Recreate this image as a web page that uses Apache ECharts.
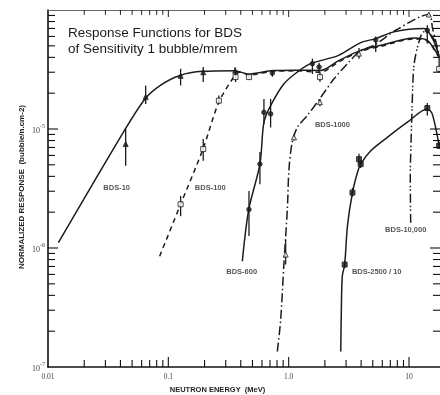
<!DOCTYPE html>
<html><head><meta charset="utf-8">
<script src="https://cdn.jsdelivr.net/npm/echarts/dist/echarts.min.js"></script>
<style>html,body{margin:0;padding:0;background:#fff}#c{width:440px;height:395px}</style>
</head><body><div id="c"></div>
<script>
// ---- axis ranges & ticks ----
const X_MIN = 0.01, X_MAX = 18.1;
const Y_MIN = 1e-7, Y_MAX = 1e-4;
const xTickLabels = {'-2': '0.01', '-1': '0.1', '0': '1.0', '1': '10'};
const xMajorTicks = [0.1, 1, 10];
const xMinorTicks = [0.02,0.03,0.04,0.05,0.06,0.07,0.08,0.09,0.2,0.3,0.4,0.5,0.6,0.7,0.8,0.9,2,3,4,5,6,7,8,9];
const yMajorTicks = [1e-6, 1e-5];
const yMinorTicks = [2e-7,3e-7,4e-7,5e-7,6e-7,7e-7,8e-7,9e-7,2e-6,3e-6,4e-6,5e-6,6e-6,7e-6,8e-6,9e-6,2e-5,3e-5,4e-5,5e-5,6e-5,7e-5,8e-5,9e-5];

// ---- response curves (energy MeV, response) ----
const bds10E = [0.0122, 0.0431, 0.064, 0.0853, 0.125, 0.193, 0.355, 0.463, 0.746, 1.17, 1.84, 2.6, 3.97, 5.83, 11.0, 14.2, 17.7];
const bds10R = [1.11e-6, 9.7e-6, 1.79e-5, 2.32e-5, 2.82e-5, 3.05e-5, 3.09e-5, 2.9e-5, 3.1e-5, 3.12e-5, 3.1e-5, 3.75e-5, 4.58e-5, 5.05e-5, 5.82e-5, 5.56e-5, 4.05e-5];

const bds100E = [0.0847, 0.1265, 0.194, 0.263, 0.358, 0.40, 0.463, 0.746, 1.17, 1.84, 2.6, 3.97, 5.83, 11.0, 14.2, 17.7];
const bds100R = [8.53e-7, 2.33e-6, 6.78e-6, 1.68e-5, 2.82e-5, 3.03e-5, 2.85e-5, 3.05e-5, 3.08e-5, 3.0e-5, 3.65e-5, 4.5e-5, 4.95e-5, 5.72e-5, 5.48e-5, 4.0e-5];

const bds600E = [0.412, 0.466, 0.577, 0.623, 0.708, 0.914, 1.18, 1.52, 2.6, 3.97, 5.29, 7.5, 13.3, 15.7, 17.7];
const bds600R = [7.74e-7, 2.11e-6, 5.07e-6, 1.14e-5, 1.57e-5, 2.40e-5, 3.01e-5, 3.54e-5, 4.16e-5, 5.32e-5, 5.75e-5, 6.55e-5, 6.98e-5, 5.75e-5, 4.16e-5];

const bds1000E = [0.805, 0.858, 0.914, 0.975, 1.006, 1.07, 1.18, 1.43, 1.81, 2.38, 3.08, 3.84, 5.29, 7.75, 14.6, 15.7, 17.7];
const bds1000R = [1.35e-7, 2.49e-7, 7.50e-7, 2.11e-6, 4.60e-6, 7.72e-6, 1.03e-5, 1.30e-5, 1.79e-5, 2.64e-5, 3.54e-5, 4.44e-5, 5.16e-5, 6.76e-5, 9.17e-5, 6.98e-5, 4.3e-5];

const bds10000E = [10.33, 10.25, 10.4, 10.6, 11.0, 12.1, 13.3, 15.7, 17.7];
const bds10000R = [1.63e-6, 4.03e-6, 7.72e-6, 1.47e-5, 3.42e-5, 5.39e-5, 6.55e-5, 5.97e-5, 4.13e-5];

const bds2500E = [2.71, 2.74, 2.79, 2.92, 3.08, 3.39, 3.73, 3.97, 4.81, 6.61, 9.70, 14.2, 15.6, 17.8];
const bds2500R = [1.35e-7, 3.03e-7, 5.78e-7, 7.26e-7, 1.53e-6, 2.92e-6, 4.31e-6, 5.07e-6, 6.56e-6, 8.51e-6, 1.14e-5, 1.47e-5, 1.34e-5, 7.23e-6];

// ---- measured points with error bars ----
const m10E  = [0.0442, 0.0648, 0.1265, 0.195, 0.359];
const m10R  = [7.47e-6, 1.86e-5, 2.8e-5, 3.0e-5, 3.09e-5];
const m10Lo = [4.9e-6, 1.62e-5, 2.32e-5, 2.48e-5, 2.8e-5];
const m10Hi = [1.0e-5, 2.32e-5, 3.21e-5, 3.32e-5, 3.3e-5];

const m100E  = [0.1265, 0.195, 0.263, 0.362, 0.468, 1.82, 17.8];
const m100R  = [2.33e-6, 6.78e-6, 1.73e-5, 2.73e-5, 2.73e-5, 2.73e-5, 3.2e-5];
const m100Lo = [1.85e-6, 5.4e-6, 1.62e-5, 2.48e-5, 2.6e-5, 2.5e-5, 3.0e-5];
const m100Hi = [2.74e-6, 8.24e-6, 1.91e-5, 3.09e-5, 2.9e-5, 3.0e-5, 4.16e-5];

const m600E  = [0.468, 0.577, 0.623, 0.708, 0.732, 1.575, 1.79, 5.29, 14.2];
const m600R  = [2.11e-6, 5.07e-6, 1.38e-5, 1.34e-5, 2.95e-5, 3.54e-5, 3.32e-5, 5.6e-5, 6.76e-5];
const m600Lo = [1.26e-6, 3.43e-6, 1.1e-5, 1.03e-5, 2.75e-5, 2.9e-5, 3.0e-5, 4.44e-5, 5.22e-5];
const m600Hi = [3.02e-6, 6.4e-6, 1.79e-5, 1.79e-5, 3.1e-5, 3.9e-5, 3.6e-5, 6.0e-5, 7.45e-5];

const m1000E  = [0.944, 1.107, 1.82, 3.84, 14.6];
const m1000R  = [8.81e-7, 8.51e-6, 1.68e-5, 4.3e-5, 9.17e-5];
const m1000Lo = [7.26e-7, 8.0e-6, 1.55e-5, 3.9e-5, 8.8e-5];
const m1000Hi = [1.18e-6, 9.0e-6, 1.79e-5, 4.8e-5, 9.5e-5];

const m2500E  = [2.92, 3.39, 3.84, 3.97, 14.2, 17.8];
const m2500R  = [7.26e-7, 2.92e-6, 5.58e-6, 5.07e-6, 1.5e-5, 7.23e-6];
const m2500Lo = [6.8e-7, 2.7e-6, 5.0e-6, 4.7e-6, 1.3e-5, 6.8e-6];
const m2500Hi = [7.8e-7, 3.2e-6, 6.2e-6, 5.5e-6, 1.65e-5, 7.8e-6];

// ---- curve labels ----
const labelTexts = ['BDS-10', 'BDS-100', 'BDS-1000', 'BDS-600', 'BDS-2500 / 10', 'BDS-10,000'];
const labelE = [0.0372, 0.223, 2.31, 0.407, 5.39, 9.39];
const labelR = [3.18e-6, 3.18e-6, 1.08e-5, 6.33e-7, 6.33e-7, 1.43e-6];

const INK = '#1c1c1c';
const pairs = (xs, ys) => xs.map((x, i) => [x, ys[i]]);

function curve(name, xs, ys, dash) {
  return {
    type: 'line', name, data: pairs(xs, ys), showSymbol: false, smooth: 0.3,
    lineStyle: {color: INK, width: 1.5, type: dash}, z: 3, silent: true
  };
}
function marks(xs, ys, symbol, filled, size) {
  return {
    type: 'scatter', data: pairs(xs, ys), symbol, symbolSize: size,
    itemStyle: {color: filled ? INK : '#fff', borderColor: INK, borderWidth: 1}, z: 5, silent: true
  };
}
function errBars(xs, lo, hi) {
  return {
    type: 'custom', data: xs.map((x, i) => [x, lo[i], hi[i]]), encode: {x: 0, y: [1, 2]}, z: 4, silent: true,
    renderItem(params, api) {
      const a = api.coord([api.value(0), api.value(1)]);
      const b = api.coord([api.value(0), api.value(2)]);
      return {type: 'line', shape: {x1: a[0], y1: a[1], x2: b[0], y2: b[1]}, style: {stroke: INK, lineWidth: 1.3}};
    }
  };
}
function xTicks(vals, len) {
  return {
    type: 'custom', data: vals.map(v => [v, Y_MIN]), encode: {x: 0, y: 1}, z: 6, silent: true, clip: false,
    renderItem(params, api) {
      const v = api.value(0);
      const b = api.coord([v, Y_MIN]);
      const t = api.coord([v, Y_MAX]);
      return {type: 'group', children: [
        {type: 'line', shape: {x1: b[0], y1: b[1], x2: b[0], y2: b[1] - len}, style: {stroke: '#111', lineWidth: 1.1}},
        {type: 'line', shape: {x1: t[0], y1: t[1], x2: t[0], y2: t[1] + len * 0.7}, style: {stroke: '#222', lineWidth: 1}}
      ]};
    }
  };
}
function yTicks(vals, len) {
  return {
    type: 'custom', data: vals.map(v => [X_MIN, v]), encode: {x: 0, y: 1}, z: 6, silent: true, clip: false,
    renderItem(params, api) {
      const v = api.value(1);
      const l = api.coord([X_MIN, v]);
      const r = api.coord([X_MAX, v]);
      return {type: 'group', children: [
        {type: 'line', shape: {x1: l[0], y1: l[1], x2: l[0] + len, y2: l[1]}, style: {stroke: '#111', lineWidth: 1.1}},
        {type: 'line', shape: {x1: r[0], y1: r[1], x2: r[0] - len, y2: r[1]}, style: {stroke: '#111', lineWidth: 1.1}}
      ]};
    }
  };
}

const chart = echarts.init(document.getElementById('c'), null, {renderer: 'canvas'});
const isDecade = v => Math.abs(Math.log10(v) - Math.round(Math.log10(v))) < 1e-6;

chart.setOption({
  animation: false,
  backgroundColor: '#fff',
  grid: {left: 48, top: 10, right: 0, bottom: 28, show: false, outerBoundsMode: 'none', containLabel: false},
  xAxis: [{
    type: 'log', logBase: 10, min: X_MIN, max: X_MAX,
    axisLine: {show: true, lineStyle: {color: '#111', width: 1.6}},
    axisTick: {show: false}, splitLine: {show: false}, minorTick: {show: false},
    axisLabel: {
      margin: 6, color: '#444', fontFamily: 'Liberation Serif', fontSize: 7.5, showMaxLabel: false,
      formatter: v => isDecade(v) ? (xTickLabels[String(Math.round(Math.log10(v)))] || '') : ''
    }
  }, {
    type: 'log', logBase: 10, min: X_MIN, max: X_MAX, position: 'top',
    axisLine: {show: true, lineStyle: {color: '#666', width: 1}},
    axisTick: {show: false}, axisLabel: {show: false}, splitLine: {show: false}
  }],
  yAxis: {
    type: 'log', logBase: 10, min: Y_MIN, max: Y_MAX,
    axisLine: {show: true, lineStyle: {color: '#111', width: 1.6}},
    axisTick: {show: false}, splitLine: {show: false}, minorTick: {show: false},
    axisLabel: {
      margin: 3, color: '#444',
      formatter: v => {
        if (!isDecade(v)) return '';
        const e = Math.round(Math.log10(v));
        if (e === -4) return '';
        return '{b|10}{s|' + e + '}';
      },
      rich: {
        b: {fontFamily: 'Liberation Serif', fontSize: 8, color: '#444', padding: [4, 0, 0, 0]},
        s: {fontFamily: 'Liberation Serif', fontSize: 6, color: '#444', padding: [0, 0, 5, 0]}
      }
    }
  },
  graphic: [
    {type: 'text', left: 68, top: 25, style: {text: 'Response Functions for BDS\nof Sensitivity 1 bubble/mrem',
      font: '13.5px "Liberation Sans"', fill: '#1a1a1a', lineHeight: 16}},
    {type: 'text', x: 21.5, y: 187, rotation: Math.PI / 2,
      style: {text: 'NORMALIZED RESPONSE  (bubble/n.cm-2)', font: 'bold 8px "Liberation Sans"', fill: '#222',
        textAlign: 'center', textVerticalAlign: 'middle'}},
    {type: 'text', x: 217.5, y: 390,
      style: {text: 'NEUTRON ENERGY  (MeV)', font: 'bold 7.5px "Liberation Sans"', fill: '#222',
        textAlign: 'center', textVerticalAlign: 'middle'}}
  ],
  series: [
    curve('BDS-10', bds10E, bds10R, 'solid'),
    curve('BDS-100', bds100E, bds100R, [5, 4]),
    curve('BDS-600', bds600E, bds600R, 'solid'),
    curve('BDS-1000', bds1000E, bds1000R, [9, 3, 1.5, 3]),
    curve('BDS-10,000', bds10000E, bds10000R, [9, 3, 1.5, 2, 1.5, 3]),
    curve('BDS-2500 / 10', bds2500E, bds2500R, 'solid'),
    errBars(m10E, m10Lo, m10Hi),
    errBars(m100E, m100Lo, m100Hi),
    errBars(m600E, m600Lo, m600Hi),
    errBars(m1000E, m1000Lo, m1000Hi),
    errBars(m2500E, m2500Lo, m2500Hi),
    marks(m10E, m10R, 'triangle', true, 5),
    marks(m100E, m100R, 'rect', false, 5),
    marks(m600E, m600R, 'circle', true, 4.5),
    marks(m1000E, m1000R, 'triangle', false, 5),
    marks(m2500E, m2500R, 'rect', true, 5),
    xTicks(xMinorTicks, 7),
    xTicks(xMajorTicks, 10),
    yTicks(yMinorTicks, 7),
    yTicks(yMajorTicks, 10),
    {
      type: 'scatter', symbolSize: 1, itemStyle: {color: 'rgba(0,0,0,0)'}, z: 7, silent: true,
      data: labelTexts.map((t, i) => ({name: t, value: [labelE[i], labelR[i]]})),
      label: {show: true, position: 'inside', formatter: p => p.name,
        fontFamily: 'Liberation Sans', fontWeight: 'bold', fontSize: 7.5, color: '#2a2a2a'}
    }
  ]
});
</script>
</body></html>
